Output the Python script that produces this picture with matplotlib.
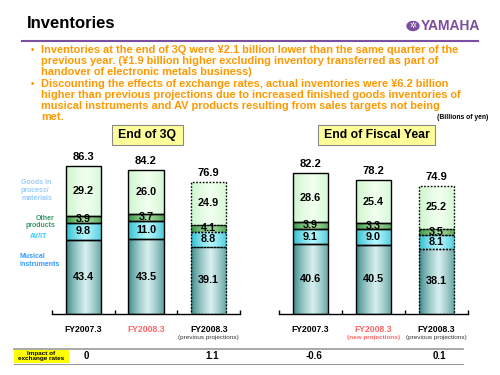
import matplotlib
matplotlib.use("Agg")
import matplotlib.pyplot as plt
import numpy as np
from matplotlib.colors import LinearSegmentedColormap
from matplotlib.patches import Rectangle, Circle
from matplotlib.lines import Line2D
import matplotlib.transforms as mtransforms

plt.rcParams['font.family'] = ['Liberation Sans', 'DejaVu Sans']

# data (billions of yen)
q3_musical = [43.4, 43.5, 39.1]
q3_avit = [9.8, 11.0, 8.8]
q3_other = [3.9, 3.7, 4.1]
q3_goods = [29.2, 26.0, 24.9]
q3_totals = [86.3, 84.2, 76.9]

fy_musical = [40.6, 40.5, 38.1]
fy_avit = [9.1, 9.0, 8.1]
fy_other = [3.9, 3.3, 3.5]
fy_goods = [28.6, 25.4, 25.2]
fy_totals = [82.2, 78.2, 74.9]

impact_q3 = ["0", "", "1.1"]
impact_fy = ["-0.6", "", "0.1"]

W, H = 500, 375
fig = plt.figure(figsize=(5, 3.75), dpi=100)
fig.patch.set_facecolor("white")


def px(x, y):
    return x / W, 1 - y / H


ORANGE = "#FF9900"
PURPLE = "#7B4FA0"

# header
fig.text(*px(27, 24), "Inventories", fontsize=12, fontweight="bold", va="center", ha="left")
fig.add_artist(Line2D([22 / W, 478 / W], [1 - 40.5 / H, 1 - 40.5 / H], color=PURPLE, lw=1.5))
fig.add_artist(Circle(px(413, 26), 6 / W, color=PURPLE, transform=fig.transFigure))
fig.text(*px(413, 26), "✲", color="white", fontsize=6, ha="center", va="center",
         family=["DejaVu Sans"])
fig.text(*px(421, 26), "YAMAHA", color=PURPLE, fontsize=10, fontweight="bold",
         ha="left", va="center", family=["Liberation Sans Narrow", "Liberation Sans"])

bullets = [
    ["Inventories at the end of 3Q were ¥2.1 billion lower than the same quarter of the",
     "previous year. (¥1.9 billion higher excluding inventory transferred as part of",
     "handover of electronic metals business)"],
    ["Discounting the effects of exchange rates, actual inventories were ¥6.2 billion",
     "higher than previous projections due to increased finished goods inventories of",
     "musical instruments and AV products resulting from sales targets not being",
     "met."],
]
y = 50
for lines in bullets:
    fig.text(*px(31, y), "•", color=ORANGE, fontsize=7, fontweight="bold", va="center")
    for ln in lines:
        fig.text(*px(41, y), ln, color=ORANGE, fontsize=7.95, fontweight="bold", va="center")
        y += 10.9
    y += 1.5
fig.text(*px(488, 117.5), "(Billions of yen)", fontsize=4.9, fontweight="bold", ha="right", va="center")

# colormaps for gradient bars
cmaps = {
    "musical": LinearSegmentedColormap.from_list("m", ["#2E8080", "#D6F0EE"]),
    "avit": LinearSegmentedColormap.from_list("a", ["#22B8C8", "#B5F7FF"]),
    "other": LinearSegmentedColormap.from_list("o", ["#2E8B3C", "#A8DDA0"]),
    "goods": LinearSegmentedColormap.from_list("g", ["#C8F5C8", "#F2FFF0"]),
}
xs = np.linspace(0, 1, 64)
grad = np.clip(1 - np.abs(xs - 0.55) / 0.55, 0, 1)[None, :] ** 0.7

YMAX = 95.6


def draw_panel(x0, x1, musical, avit, other, goods, totals):
    l, b = px(x0, 314)
    r, t = px(x1, 150)
    ax = fig.add_axes([l, b, r - l, t - b])
    ax.patch.set_alpha(0)
    idx = np.arange(3)
    bottom = np.zeros(3)
    for key, vals in [("musical", musical), ("avit", avit), ("other", other), ("goods", goods)]:
        bars = ax.bar(idx, vals, 0.56, bottom=bottom, facecolor="none",
                      edgecolor="black", lw=1.0, zorder=3)
        for i, p in enumerate(bars):
            if i == 2:
                p.set_linestyle((0, (1.2, 1.2)))
            bx, by = p.get_x(), p.get_y()
            im = ax.imshow(grad, extent=[bx, bx + p.get_width(), by, by + p.get_height()],
                           aspect="auto", cmap=cmaps[key], vmin=0, vmax=1, zorder=2,
                           interpolation="bilinear")
            im.set_clip_path(p)
            ax.text(i, by + vals[i] / 2, f"{vals[i]:.1f}", ha="center", va="center",
                    fontsize=7.8, fontweight="bold", zorder=4)
        bottom = bottom + np.array(vals)
    for i, tot in enumerate(totals):
        ax.text(i, tot + 2.2, f"{tot:.1f}", ha="center", va="bottom",
                fontsize=8, fontweight="bold")
    ax.set_xlim(-0.5, 2.5)
    ax.set_ylim(0, YMAX)
    for s in ["top", "right", "left"]:
        ax.spines[s].set_visible(False)
    ax.spines["bottom"].set_linewidth(1.0)
    ax.set_yticks([])
    ax.set_xticks([-0.5, 0.5, 1.5, 2.5])
    ax.set_xticklabels([])
    ax.tick_params(axis="x", direction="in", length=3, width=1)
    return ax


ax1 = draw_panel(52, 240, q3_musical, q3_avit, q3_other, q3_goods, q3_totals)
ax2 = draw_panel(279, 468, fy_musical, fy_avit, fy_other, fy_goods, fy_totals)


def title_box(x0, x1, text):
    fig.add_artist(Rectangle(px(x0, 145), (x1 - x0) / W, 20 / H, transform=fig.transFigure,
                             facecolor="#FFFF99", edgecolor="#888888", lw=0.8))
    fig.text(*px((x0 + x1) / 2, 135), text, ha="center", va="center",
             fontsize=8.8, fontweight="bold")


title_box(112, 183, "End of 3Q")
title_box(318, 435, "End of Fiscal Year")

# legend labels on the left
fig.text(*px(21, 190), "Goods in\nprocess/\nmaterials", color="#99CCFF", fontsize=5,
         fontweight="bold", va="center", ha="left", linespacing=1.2)
fig.text(*px(55, 222), "Other\nproducts", color="#339966", fontsize=5,
         fontweight="bold", va="center", ha="right", linespacing=1.1)
fig.text(*px(39, 237), "AV/IT", color="#33CCFF", fontsize=5, fontweight="bold",
         va="center", ha="center")
fig.text(*px(20, 261), "Musical\ninstruments", color="#3399FF", fontsize=5,
         fontweight="bold", va="center", ha="left", linespacing=1.2)

# category labels
RED = "#FF6666"
cats = ["FY2007.3", "FY2008.3", "FY2008.3"]
cat_colors = ["black", RED, "black"]
for ax, subs in [(ax1, ["", "", "(previous projections)"]),
                 (ax2, ["", "(new projections)", "(previous projections)"])]:
    tr = mtransforms.blended_transform_factory(ax.transData, fig.transFigure)
    for i in range(3):
        fig.text(i, 1 - 329 / H, cats[i], transform=tr, ha="center", va="center",
                 fontsize=6.2, fontweight="bold", color=cat_colors[i])
        if subs[i]:
            red = subs[i].startswith("(new")
            fig.text(i, 1 - 337.5 / H, subs[i], transform=tr, ha="center", va="center",
                     fontsize=4.6, color=RED if red else "#333333",
                     fontweight="bold" if red else "normal")

# impact of exchange rates row
fig.add_artist(Line2D([14 / W, 463 / W], [1 - 349 / H] * 2, color="#999999", lw=1.2))
fig.add_artist(Line2D([14 / W, 463 / W], [1 - 364 / H] * 2, color="#999999", lw=0.8))
fig.add_artist(Rectangle(px(14, 363), 55 / W, 13.5 / H, transform=fig.transFigure,
                         facecolor="#FFFF00", edgecolor="none"))
fig.text(*px(41.5, 356), "Impact of\nexchange rates", ha="center", va="center",
         fontsize=4.6, fontweight="bold", linespacing=1.0)
for ax, vals in [(ax1, impact_q3), (ax2, impact_fy)]:
    tr = mtransforms.blended_transform_factory(ax.transData, fig.transFigure)
    for i, v in enumerate(vals):
        if v:
            fig.text(i + 0.05, 1 - 356 / H, v, transform=tr, ha="center", va="center",
                     fontsize=7, fontweight="bold")

fig.savefig("out.png", dpi=100)
